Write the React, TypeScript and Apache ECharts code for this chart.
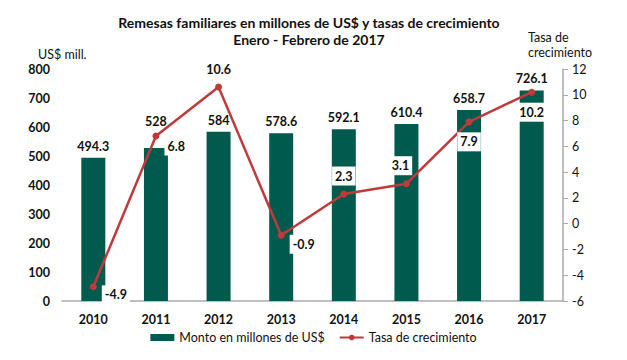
import React, { useEffect, useRef } from "react";
import * as echarts from "echarts";

const years = ["2010", "2011", "2012", "2013", "2014", "2015", "2016", "2017"];
const montos = [494.3, 528, 584, 578.6, 592.1, 610.4, 658.7, 726.1];
const tasas = [-4.9, 6.8, 10.6, -0.9, 2.3, 3.1, 7.9, 10.2];
const tasaLabelPos = ["right", "right", "top", "right", "top", "top", "bottom", "bottom"];
const tasaLabelOffset = [[0, 8], [0, 10], [0, 0], [0, 9], [0, 0], [-6, 0], [0, 2], [0, 2]];

const FONT = "Lato, 'Open Sans', 'Liberation Sans', sans-serif";

export default function App() {
  const ref = useRef<HTMLDivElement>(null);
  useEffect(() => {
    const chart = echarts.init(ref.current!, null, { renderer: "svg" });
    chart.setOption({
      animation: false,
      textStyle: { fontFamily: FONT },
      title: {
        text: "Remesas familiares en millones de US$ y tasas de crecimiento\nEnero - Febrero de 2017",
        left: 304,
        textAlign: "center",
        top: 9,
        textStyle: { fontSize: 14, fontWeight: "bold", color: "#111", lineHeight: 17, fontFamily: FONT },
      },
      legend: {
        bottom: 11,
        left: "center",
        itemGap: 14,
        textStyle: { fontSize: 12.5, color: "#111", fontFamily: FONT },
        data: [
          { name: "Monto en millones de US$", icon: "rect", itemStyle: { color: "#005A4E" } },
          { name: "Tasa de crecimiento" },
        ],
        itemWidth: 24,
        itemHeight: 7,
      },
      grid: { left: 62, right: 64, top: 69, bottom: 59 },
      xAxis: {
        type: "category",
        data: years,
        axisLine: { lineStyle: { color: "#aaa", width: 1.5 } },
        axisTick: { show: false },
        axisLabel: { color: "#111", fontSize: 12.5, fontWeight: "bold", margin: 12, fontFamily: FONT },
      },
      yAxis: [
        {
          type: "value",
          min: 0,
          max: 800,
          interval: 100,
          name: "US$ mill.",
          nameLocation: "end",
          nameGap: 8,
          nameTextStyle: { color: "#111", fontSize: 12.5, align: "left", padding: [0, 0, 0, -24], fontFamily: FONT },
          axisLine: { show: false },
          axisTick: { show: false },
          splitLine: { show: false },
          axisLabel: { color: "#111", fontSize: 12.5, fontWeight: "bold", margin: 12, fontFamily: FONT },
        },
        {
          type: "value",
          min: -6,
          max: 12,
          interval: 2,
          position: "right",
          name: "Tasa de\ncrecimiento",
          nameLocation: "end",
          nameGap: 9,
          nameTextStyle: { color: "#111", fontSize: 12.5, lineHeight: 15, align: "left", padding: [0, 0, 0, -35], fontFamily: FONT },
          axisLine: { show: true, lineStyle: { color: "#aaa", width: 1.5 } },
          axisTick: { show: true, length: 5, lineStyle: { color: "#aaa" } },
          splitLine: { show: false },
          axisLabel: { color: "#111", fontSize: 12.5, margin: 9, fontFamily: FONT },
        },
      ],
      series: [
        {
          name: "Monto en millones de US$",
          type: "bar",
          barWidth: 24,
          itemStyle: { color: "#005A4E" },
          data: montos.map((v, i) => ({
            value: v,
            label: i === 1 ? { offset: [0, -15] } : undefined,
          })),
          label: {
            show: true,
            position: "top",
            distance: 5,
            color: "#111",
            fontSize: 12.5,
            fontWeight: "bold",
            fontFamily: FONT,
          },
          z: 2,
        },
        {
          name: "Tasa de crecimiento",
          type: "line",
          yAxisIndex: 1,
          symbol: "circle",
          symbolSize: 7,
          itemStyle: { color: "#C0393B" },
          lineStyle: { color: "#C0393B", width: 2.5 },
          data: tasas.map((v, i) => ({
            value: v,
            label: { position: tasaLabelPos[i], offset: tasaLabelOffset[i] },
          })),
          label: {
            show: true,
            color: "#111",
            fontSize: 12.5,
            fontWeight: "bold",
            fontFamily: FONT,
            backgroundColor: "#fff",
            padding: [3, 3, 3, 3],
            distance: 5,
          },
          z: 5,
        },
      ],
    });
    return () => chart.dispose();
  }, []);
  return <div ref={ref} style={{ width: 627, height: 360, position: "absolute", left: 0, top: 0, background: "#fff" }} />;
}
